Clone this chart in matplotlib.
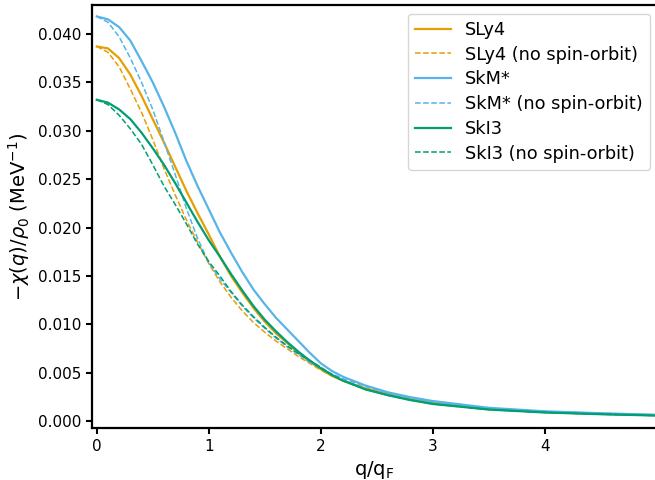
import matplotlib
matplotlib.use("Agg")
import matplotlib.pyplot as plt

# q/q_F sample points
q = [0.0, 0.1, 0.2, 0.3, 0.4, 0.5, 0.6, 0.7, 0.8, 0.9, 1.0,
     1.1, 1.2, 1.3, 1.4, 1.5, 1.6, 1.7, 1.8, 1.9, 2.0,
     2.1, 2.2, 2.4, 2.6, 2.8, 3.0, 3.5, 4.0, 4.5, 5.0]

# -chi(q)/rho0 in MeV^-1
sly4 = [0.0387, 0.0385, 0.0375, 0.0358, 0.0336, 0.0312, 0.0288, 0.0263, 0.0238, 0.0215, 0.0193,
        0.0170, 0.0150, 0.0133, 0.0117, 0.0103, 0.0091, 0.0081, 0.0071, 0.0062, 0.0054,
        0.0047, 0.0042, 0.0034, 0.0028, 0.0023, 0.0019, 0.00128, 0.00096, 0.00077, 0.00063]
sly4_noso = [0.0387, 0.0381, 0.0366, 0.0343, 0.0319, 0.0291, 0.0261, 0.0234, 0.0208, 0.0185, 0.0163,
             0.0144, 0.0128, 0.0114, 0.0102, 0.0092, 0.0083, 0.0075, 0.0067, 0.0060, 0.0053,
             0.0047, 0.0042, 0.0034, 0.0028, 0.0023, 0.0019, 0.00128, 0.00096, 0.00077, 0.00063]
skm = [0.0418, 0.0415, 0.0407, 0.0393, 0.0372, 0.0350, 0.0325, 0.0298, 0.0269, 0.0243, 0.0219,
       0.0195, 0.0174, 0.0154, 0.0136, 0.0121, 0.0107, 0.0095, 0.0083, 0.0071, 0.0060,
       0.0052, 0.0046, 0.0037, 0.0030, 0.0025, 0.0021, 0.00140, 0.00104, 0.00084, 0.00068]
skm_noso = [0.0418, 0.0412, 0.0397, 0.0375, 0.0350, 0.0322, 0.0289, 0.0255, 0.0220, 0.0189, 0.0164,
            0.0147, 0.0133, 0.0119, 0.0107, 0.0096, 0.0086, 0.0077, 0.0069, 0.0061, 0.0055,
            0.0049, 0.0044, 0.0036, 0.0029, 0.0024, 0.0020, 0.00135, 0.00101, 0.00082, 0.00067]
ski3 = [0.0332, 0.0329, 0.0322, 0.0312, 0.0298, 0.0282, 0.0265, 0.0246, 0.0226, 0.0206, 0.0187,
        0.0170, 0.0152, 0.0135, 0.0119, 0.0105, 0.0093, 0.0082, 0.0072, 0.0063, 0.0055,
        0.0048, 0.0042, 0.0033, 0.0027, 0.0022, 0.0018, 0.00122, 0.00092, 0.00074, 0.00060]
ski3_noso = [0.0332, 0.0327, 0.0316, 0.0302, 0.0286, 0.0265, 0.0243, 0.0224, 0.0204, 0.0183, 0.0165,
             0.0150, 0.0134, 0.0120, 0.0108, 0.0097, 0.0087, 0.0078, 0.0070, 0.0063, 0.0056,
             0.0048, 0.0042, 0.0033, 0.0027, 0.0022, 0.0018, 0.00122, 0.00092, 0.00074, 0.00060]

forces = ["SLy4", "SkM*", "SkI3"]
colors = ["#E69F00", "#56B4E9", "#009E73"]
full = [sly4, skm, ski3]
noso = [sly4_noso, skm_noso, ski3_noso]

fig = plt.figure(figsize=(6.55, 4.8), dpi=100)
# right spine falls just outside the saved image, as in the reference
ax = fig.add_axes([0.14, 0.108, 0.8626, 0.882])

for name, c, y1, y2 in zip(forces, colors, full, noso):
    ax.plot(q, y1, color=c, lw=1.6, label=name)
    ax.plot(q, y2, color=c, lw=1.1, ls="--", label=name + " (no spin-orbit)")

ax.set_xlim(-0.045, 5.0)
ax.set_ylim(-0.0007, 0.0430)
ax.set_xticks([0, 1, 2, 3, 4])
ax.set_yticks([0.000, 0.005, 0.010, 0.015, 0.020, 0.025, 0.030, 0.035, 0.040])
ax.set_yticklabels([f"{v:.3f}" for v in ax.get_yticks()])
ax.tick_params(labelsize=11, width=1.5, length=4)
for s in ax.spines.values():
    s.set_linewidth(1.6)

ax.set_xlabel(r"q/q$_\mathrm{F}$", fontsize=14)
ax.set_ylabel(r"$-\chi(q)/\rho_0$ (MeV$^{-1}$)", fontsize=14)
ax.legend(loc="upper right", bbox_to_anchor=(1.004, 1.0), fontsize=12.8,
          labelspacing=0.38, handlelength=2.0)

fig.savefig("out.png", dpi=100)
